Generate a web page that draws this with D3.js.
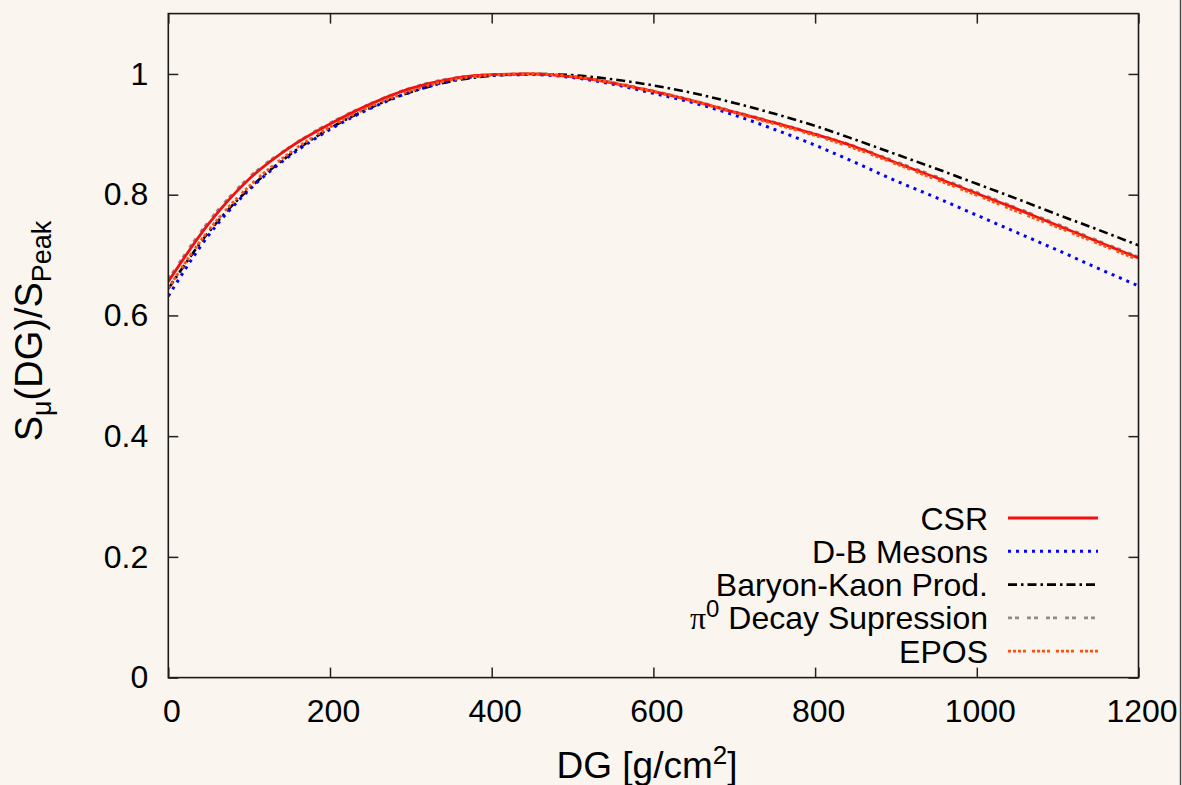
<!DOCTYPE html>
<html>
<head>
<meta charset="utf-8">
<script src="https://cdn.jsdelivr.net/npm/d3@7"></script>
<style>
  html, body { margin: 0; padding: 0; background: #faf6ef; }
  svg { display: block; }
  text { font-family: "Liberation Sans", Arial, Helvetica, sans-serif; fill: #000; }
</style>
</head>
<body>
<svg id="chart" width="1182" height="785"></svg>
<script>
// Slant depth DG in g/cm^2
const depth = [0, 50, 100, 150, 200, 250, 300, 350, 400, 450, 500, 550, 600,
               650, 700, 750, 800, 850, 900, 950, 1000, 1050, 1100, 1150, 1200];

// Muon signal normalised to its peak, one list per model
const csr = [0.656, 0.752, 0.826, 0.878, 0.917, 0.950, 0.976, 0.992, 0.999, 1.000, 0.995, 0.985, 0.971,
             0.955, 0.937, 0.919, 0.900, 0.879, 0.853, 0.828, 0.802, 0.776, 0.749, 0.722, 0.695];
const dbMesons = [0.632, 0.733, 0.808, 0.864, 0.908, 0.943, 0.970, 0.989, 0.998, 0.999, 0.994, 0.983, 0.968,
                  0.952, 0.932, 0.908, 0.882, 0.853, 0.823, 0.795, 0.766, 0.737, 0.708, 0.678, 0.649];
const baryonKaon = [0.644, 0.738, 0.810, 0.866, 0.910, 0.944, 0.970, 0.988, 0.997, 1.000, 0.998, 0.991, 0.981,
                    0.968, 0.952, 0.934, 0.914, 0.891, 0.867, 0.843, 0.818, 0.793, 0.767, 0.742, 0.716];
const pi0Supp = [0.660, 0.756, 0.829, 0.879, 0.919, 0.951, 0.977, 0.993, 0.999, 1.000, 0.996, 0.986, 0.972,
                 0.956, 0.938, 0.920, 0.901, 0.880, 0.855, 0.830, 0.804, 0.778, 0.751, 0.724, 0.697];
const epos = [0.645, 0.741, 0.814, 0.869, 0.912, 0.946, 0.972, 0.990, 0.998, 1.000, 0.996, 0.985, 0.971,
              0.955, 0.936, 0.917, 0.898, 0.876, 0.851, 0.825, 0.799, 0.772, 0.746, 0.719, 0.692];

const xTicks = [0, 200, 400, 600, 800, 1000, 1200];
const yTicks = [0, 0.2, 0.4, 0.6, 0.8, 1];

const seriesNames = ["CSR", "D-B Mesons", "Baryon-Kaon Prod.", "\u03c0\u2070 Decay Supression", "EPOS"];

const styles = [
  { color: "#f50f0f", width: 2.8, dash: null, cap: "butt" },
  { color: "#0000ff", width: 3, dash: "3,5", cap: "butt" },
  { color: "#000000", width: 2.6, dash: "9,4,2.5,4", cap: "butt" },
  { color: "#8c8c8c", width: 2.6, dash: "4,3,4,8", cap: "butt" },
  { color: "#ff5010", width: 2.8, dash: "3,2,3,2,3,2,3,6", cap: "butt" }
];

const seriesData = [csr, dbMesons, baryonKaon, pi0Supp, epos];
const drawOrder = [3, 2, 1, 0, 4];

const svg = d3.select("#chart");
const plotLeft = 168.3, plotRight = 1138.5, plotTop = 13.6, plotBottom = 677.6;

const x = d3.scaleLinear().domain([0, 1200]).range([plotLeft, plotRight]);
const y = d3.scaleLinear().domain([0, 1.1]).range([plotBottom, plotTop]);

svg.append("defs").append("clipPath").attr("id", "plotClip")
  .append("rect").attr("x", plotLeft).attr("y", plotTop)
  .attr("width", plotRight - plotLeft).attr("height", plotBottom - plotTop);

// curves
const line = d3.line().curve(d3.curveMonotoneX);
const plot = svg.append("g").attr("clip-path", "url(#plotClip)");
drawOrder.forEach(i => {
  const pts = depth.map((d, k) => [x(d), y(seriesData[i][k])]);
  const s = styles[i];
  plot.append("path")
    .attr("d", line(pts))
    .attr("fill", "none")
    .attr("stroke", s.color)
    .attr("stroke-width", s.width)
    .attr("stroke-linecap", s.cap)
    .attr("stroke-dasharray", s.dash);
});

// axes with inward ticks on all four sides
const axisStyle = g => {
  g.select(".domain").remove();
  g.selectAll(".tick line").attr("stroke", "#222").attr("stroke-width", 1.5);
  g.selectAll("text").style("font-size", "32px").attr("fill", "#000");
};

svg.append("g").attr("transform", `translate(0,${plotBottom})`)
  .call(d3.axisBottom(x).tickValues(xTicks).tickFormat(d3.format("d"))
    .tickSizeInner(-10).tickSizeOuter(0).tickPadding(22))
  .call(axisStyle)
  .call(g => g.selectAll("text").attr("dx", 3));

svg.append("g").attr("transform", `translate(${plotLeft},0)`)
  .call(d3.axisLeft(y).tickValues(yTicks).tickFormat(d => d === 0 || d === 1 ? d3.format("d")(d) : d3.format(".1f")(d))
    .tickSizeInner(-10).tickSizeOuter(0).tickPadding(20))
  .call(axisStyle);

svg.append("g").attr("transform", `translate(0,${plotTop})`)
  .call(d3.axisTop(x).tickValues(xTicks).tickFormat("").tickSizeInner(-10).tickSizeOuter(0))
  .call(axisStyle);

svg.append("g").attr("transform", `translate(${plotRight},0)`)
  .call(d3.axisRight(y).tickValues(yTicks).tickFormat("").tickSizeInner(-10).tickSizeOuter(0))
  .call(axisStyle);

// frame
svg.append("rect")
  .attr("x", plotLeft).attr("y", plotTop)
  .attr("width", plotRight - plotLeft).attr("height", plotBottom - plotTop)
  .attr("fill", "none").attr("stroke", "#1a1a1a").attr("stroke-width", 1.6);

// page edge rule
svg.append("line")
  .attr("x1", 1180.5).attr("x2", 1180.5).attr("y1", 0).attr("y2", 785)
  .attr("stroke", "#444").attr("stroke-width", 1.4);

// legend
const legend = svg.append("g");
const legTextX = 988, legLineX1 = 1008, legLineX2 = 1098, legY0 = 518, legDy = 33.3;
seriesNames.forEach((name, i) => {
  const cy = legY0 + i * legDy;
  const t = legend.append("text")
    .attr("x", legTextX).attr("y", cy + 11.5)
    .attr("text-anchor", "end")
    .style("font-size", "32px");
  if (i === 3) {
    t.append("tspan").text("\u03c0").style("font-family", "'Liberation Serif', 'DejaVu Serif', serif");
    t.append("tspan").text("0").attr("dy", -12).style("font-size", "24px");
    t.append("tspan").text(" Decay Supression").attr("dy", 12);
  } else {
    t.text(name);
  }
  const s = styles[i];
  legend.append("line")
    .attr("x1", legLineX1).attr("x2", legLineX2)
    .attr("y1", cy).attr("y2", cy)
    .attr("stroke", s.color)
    .attr("stroke-width", s.width)
    .attr("stroke-linecap", s.cap)
    .attr("stroke-dasharray", s.dash);
});

// axis titles
const xt = svg.append("text")
  .attr("x", 647).attr("y", 778)
  .attr("text-anchor", "middle")
  .style("font-size", "37px");
xt.append("tspan").text("DG [g/cm");
xt.append("tspan").text("2").attr("dy", -14).style("font-size", "26px");
xt.append("tspan").text("]").attr("dy", 14);

const yt = svg.append("text")
  .attr("transform", "translate(42,331) rotate(-90)")
  .attr("text-anchor", "middle")
  .style("font-size", "38px");
yt.append("tspan").text("S");
yt.append("tspan").text("\u03bc").attr("dy", 9).style("font-size", "27px");
yt.append("tspan").text("(DG)/S").attr("dy", -9);
yt.append("tspan").text("Peak").attr("dy", 9).style("font-size", "27px");
</script>
</body>
</html>
